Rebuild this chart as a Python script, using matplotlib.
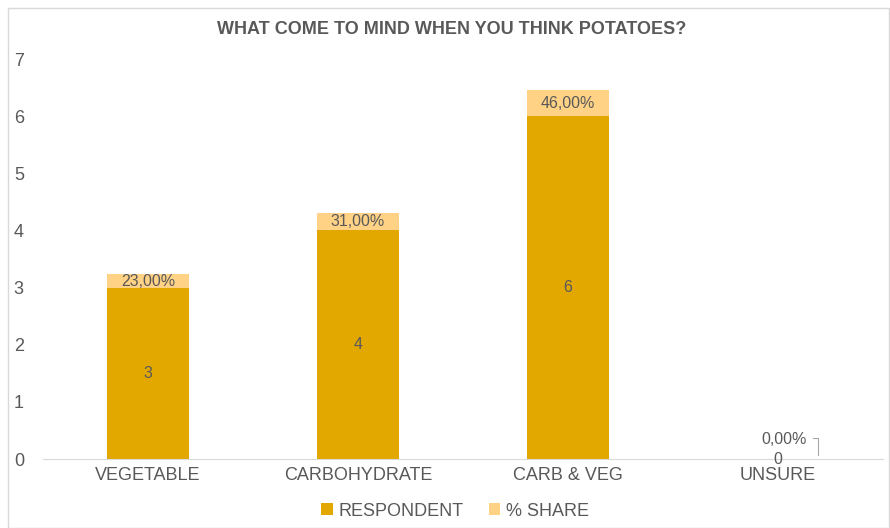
import matplotlib
matplotlib.use("Agg")
import matplotlib.pyplot as plt
from matplotlib.patches import Rectangle

plt.rcParams['font.family'] = ['Liberation Sans', 'DejaVu Sans']

categories = ["VEGETABLE", "CARBOHYDRATE", "CARB & VEG", "UNSURE"]
respondent = [3, 4, 6, 0]
share = [0.23, 0.31, 0.46, 0.0]
share_labels = ["23,00%", "31,00%", "46,00%", "0,00%"]

c_resp = "#E2A800"
c_share = "#FFD285"
c_text = "#595959"

fig = plt.figure(figsize=(8.9, 5.28), dpi=100)
fig.patches.append(Rectangle((8 / 890, 0), 1 - 9 / 890, 1 - 8 / 528,
                             transform=fig.transFigure, fill=False,
                             edgecolor="#D9D9D9", linewidth=1.0))
ax = fig.add_axes([43 / 890, 1 - 459 / 528, 840 / 890, 400 / 528])

x = list(range(len(categories)))
w = 0.395
ax.bar(x, respondent, w, color=c_resp, label="RESPONDENT", zorder=2)
ax.bar(x, share, w, bottom=respondent, color=c_share, label="% SHARE", zorder=2)

for i in x:
    ax.text(i, respondent[i] / 2, str(respondent[i]), ha="center", va="center",
            fontsize=11.5, color=c_text, zorder=3)
    if share[i] > 0:
        ax.text(i, respondent[i] + share[i] / 2, share_labels[i], ha="center",
                va="center", fontsize=11.5, color=c_text, zorder=3)
    else:
        # tiny segment: label set above with a leader line
        ax.text(i + 0.03, respondent[i] + 0.34, share_labels[i], ha="center",
                va="center", fontsize=11.5, color=c_text, zorder=3)
        ax.plot([i + 0.165, i + 0.19, i + 0.19], [respondent[i] + 0.36, respondent[i] + 0.36,
                respondent[i] + 0.07], color="#A6A6A6", linewidth=0.8, zorder=3)

ax.set_xlim(-0.5, len(categories) - 0.5)
ax.set_ylim(0, 7)
ax.set_xticks(x)
ax.set_xticklabels(categories, fontsize=13, color=c_text)
ax.set_yticks(range(0, 8))
ax.set_yticklabels([str(v) for v in range(0, 8)], fontsize=13, color=c_text)
ax.tick_params(axis="both", length=0)
ax.tick_params(axis="x", pad=6)
for lab in ax.get_yticklabels():
    lab.set_horizontalalignment("left")
ax.yaxis.set_tick_params(pad=21)
for s in ["top", "right", "left"]:
    ax.spines[s].set_visible(False)
ax.spines["bottom"].set_color("#D9D9D9")
ax.set_facecolor("none")

fig.text(452 / 890, 1 - 30 / 528, "WHAT COME TO MIND WHEN YOU THINK POTATOES?",
         ha="center", va="center", fontsize=13, fontweight="bold", color=c_text)

fig.legend(loc="center", bbox_to_anchor=(455 / 890, 1 - 511 / 528), ncol=2,
           frameon=False, fontsize=13, handlelength=0.65, handleheight=0.65,
           handletextpad=0.3, columnspacing=1.4, labelcolor=c_text)

fig.savefig("out.png", dpi=100)
